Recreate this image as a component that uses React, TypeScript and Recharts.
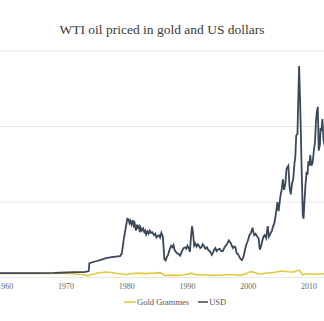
import React from "react";
import { LineChart, Line, XAxis, YAxis, CartesianGrid, Legend } from "recharts";

const usdYears = [
  1958.5, 1962, 1965, 1968, 1970, 1971.5, 1973.0, 1973.75, 1973.85, 1974.8, 1975.6, 1976.6, 1977.5, 1978.9,
  1979.2, 1979.5, 1979.8, 1980.1, 1980.3, 1980.45, 1980.6, 1980.8, 1981.0, 1981.15, 1981.3, 1981.5, 1981.7,
  1981.85, 1982.0, 1982.15, 1982.3, 1982.5, 1982.7, 1982.9, 1983.05, 1983.2, 1983.4, 1983.6, 1983.8,
  1984.0, 1984.2, 1984.5, 1984.7, 1984.9, 1985.1, 1985.3, 1985.5, 1985.7, 1985.95, 1986.2, 1986.4,
  1986.6, 1986.8, 1987.1, 1987.3, 1987.5, 1987.7, 1987.9, 1988.1, 1988.3, 1988.55, 1988.8, 1989.1,
  1989.35, 1989.6, 1989.8, 1990.0, 1990.2, 1990.4, 1990.6, 1990.75, 1990.9, 1991.1, 1991.3, 1991.5,
  1991.7, 1991.9, 1992.1, 1992.3, 1992.5, 1992.7, 1992.95, 1993.2, 1993.45, 1993.7, 1994.0, 1994.2,
  1994.4, 1994.6, 1994.8, 1995.05, 1995.3, 1995.55, 1995.8, 1996.05, 1996.3, 1996.55, 1996.8, 1997.1,
  1997.3, 1997.5, 1997.7, 1997.9, 1998.1, 1998.3, 1998.5, 1998.7, 1998.95, 1999.15, 1999.3, 1999.5,
  1999.7, 1999.9, 2000.2, 2000.45, 2000.7, 2000.85, 2001.0, 2001.2, 2001.5, 2001.7, 2001.9, 2002.1,
  2002.3, 2002.5, 2002.7, 2002.95, 2003.2, 2003.4, 2003.65, 2003.9, 2004.1, 2004.3, 2004.55, 2004.8,
  2005.0, 2005.3, 2005.5, 2005.7, 2005.9, 2006.1, 2006.3, 2006.6, 2006.8, 2007.0, 2007.2, 2007.4,
  2007.6, 2007.75, 2007.9, 2008.1, 2008.25, 2008.37, 2008.55, 2008.8, 2008.98, 2009.1, 2009.25, 2009.4,
  2009.6, 2009.75, 2009.9, 2010.05, 2010.2, 2010.4, 2010.6, 2010.8, 2011.0, 2011.15, 2011.3, 2011.45,
  2011.6, 2011.8, 2011.9, 2012.05, 2012.2, 2012.4, 2012.7,
];
const usdValues = [
  2.9, 2.9, 2.9, 3.0, 3.3, 3.5, 3.6, 4.3, 9.5, 10.6, 11.5, 12.8, 13.5, 14.2,
  16, 25, 32, 39, 38.5, 36, 37.5, 35, 38, 34.5, 36, 31, 35,
  33, 34, 30, 33, 31, 32.5, 30, 31, 28.5, 30.5, 29, 31,
  29.5, 30, 28, 29, 26.5, 27.5, 28, 26.5, 29.5, 27, 12, 11.3,
  13.5, 15, 19, 21, 20, 21.5, 18, 17, 16, 15.5, 14.5, 17.5,
  19.5, 20, 19, 21, 19.5, 17, 28, 34, 30, 21, 22.5, 20.5,
  22, 21, 19.5, 20, 22, 21, 19, 20, 18, 17.5, 15, 16.5,
  18.5, 19.5, 17.5, 18.5, 19, 17.5, 17.5, 19.5, 21, 22.5, 24.5, 23,
  21, 19.5, 20.5, 20, 16, 15.5, 14, 12.5, 11.5, 13, 15, 19,
  22, 24, 28, 29.5, 33, 30, 28, 29, 27, 26, 18.5, 20.5,
  24, 27, 28, 26, 34, 27, 29, 31, 34, 36, 42, 50,
  44, 54, 58, 65, 58, 62, 72, 74, 60, 55, 62, 65,
  75, 80, 94, 95, 120, 140, 115, 70, 41, 39, 50, 60,
  70, 68, 77, 74, 81, 74, 76, 84, 90, 104, 110, 113,
  84, 88, 99, 97, 105, 91, 85,
];

const goldYears = [
  1958.5, 1965, 1970, 1972.0, 1973.0, 1973.6, 1974.0, 1975.0, 1976.5, 1977.5, 1978.5, 1979.5,
  1980.0, 1981.0, 1982.0, 1983.0, 1984.5, 1985.5, 1986.3, 1987.0, 1988.5, 1989.5, 1990.7, 1991.2,
  1993.0, 1994.0, 1995.5, 1996.8, 1998.7, 1999.5, 2000.4, 2001.0, 2001.9, 2003.0, 2004.0, 2005.5,
  2006.5, 2007.5, 2008.37, 2008.98, 2009.5, 2010.5, 2011.5, 2012.7,
];
const goldValues = [
  2.6, 2.7, 2.8, 2.2, 1.8, 1.0, 1.6, 2.8, 3.6, 3.3, 2.7, 2.2,
  2.0, 2.6, 2.9, 2.6, 2.9, 3.2, 1.3, 1.6, 1.4, 1.8, 2.9, 1.9,
  1.7, 1.4, 1.5, 2.0, 1.4, 2.4, 3.9, 3.3, 2.2, 3.0, 3.2, 4.3,
  3.8, 3.6, 4.9, 1.6, 2.4, 2.3, 2.2, 2.5,
];

const xTicks = [1960, 1970, 1980, 1990, 2000, 2010];
const yTicks = [0, 50, 100, 150];

const usdData = usdYears.map((y, i) => ({ year: y, value: usdValues[i] }));
const goldData = goldYears.map((y, i) => ({ year: y, value: goldValues[i] }));

const GOLD = "#e5c83c";
const USD = "#3b4859";

const LegendContent = () => (
  <div style={{ display: "flex", alignItems: "center", fontFamily: "'Liberation Serif', serif", fontSize: 8.5, color: "#555" }}>
    <svg width={12} height={8}><line x1={0} y1={4} x2={12} y2={4} stroke={GOLD} strokeWidth={1.5} /></svg>
    <span style={{ marginLeft: 1, marginRight: 9 }}>Gold Grammes</span>
    <svg width={10} height={8}><line x1={0} y1={4} x2={10} y2={4} stroke={USD} strokeWidth={1.5} /></svg>
    <span style={{ marginLeft: 1 }}>USD</span>
  </div>
);

export default function App() {
  return (
    <div style={{ position: "absolute", left: 0, top: 0, width: 324, height: 321, overflow: "hidden", background: "#fff" }}>
      <div
        style={{
          position: "absolute",
          top: 22,
          left: 0,
          width: 324,
          textAlign: "center",
          fontFamily: "'Liberation Serif', serif",
          fontSize: 13.5,
          lineHeight: "16px",
          color: "#3a3a3a",
        }}
      >
        WTI oil priced in gold and US dollars
      </div>
      <LineChart width={324} height={321} margin={{ top: 51, right: 0, left: 0, bottom: 0 }}>
        <CartesianGrid vertical={false} stroke="#e8e8e8" strokeWidth={1} />
        <XAxis
          dataKey="year"
          type="number"
          domain={[1959.14, 2012.47]}
          allowDataOverflow
          ticks={xTicks}
          axisLine={false}
          tickLine={false}
          tickSize={6}
          tickMargin={0}
          height={43.5}
          tick={{ fontSize: 8, fill: "#666", fontFamily: "'Liberation Serif', serif" }}
          interval={0}
        />
        <YAxis type="number" domain={[0, 150]} ticks={yTicks} hide width={0} allowDataOverflow />
        <Legend
          layout="horizontal"
          verticalAlign="middle"
          align="center"
          wrapperStyle={{ position: "absolute", top: 297, left: 124, width: "auto" }}
          content={<LegendContent />}
        />
        <Line data={goldData} dataKey="value" name="Gold Grammes" stroke={GOLD} strokeWidth={1.6} dot={false} isAnimationActive={false} type="linear" />
        <Line data={usdData} dataKey="value" name="USD" stroke={USD} strokeWidth={1.8} dot={false} isAnimationActive={false} type="linear" />
      </LineChart>
    </div>
  );
}
